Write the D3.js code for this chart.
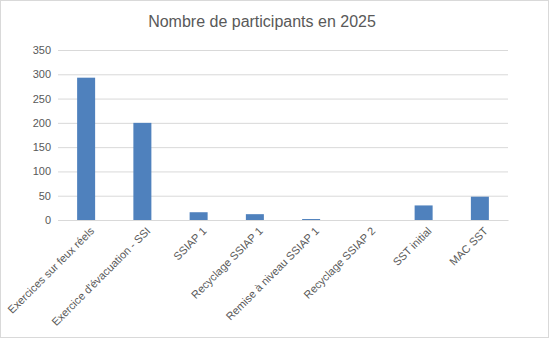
<!DOCTYPE html>
<html>
<head>
<meta charset="utf-8">
<script src="https://cdn.jsdelivr.net/npm/d3@7"></script>
<style>
  body { margin: 0; background: #fff; }
  svg { display: block; font-family: "Liberation Sans", Arial, sans-serif; }
</style>
</head>
<body>
<svg id="chart" width="549" height="338"></svg>
<script>
const categories = ["Exercices sur feux réels", "Exercice d'évacuation - SSI", "SSIAP 1", "Recyclage SSIAP 1",
    "Remise à niveau SSIAP 1", "Recyclage SSIAP 2", "SST initial", "MAC SST"];
const participants = [293, 200, 16, 12, 2, 0, 30, 48];
const yTicks = [0, 50, 100, 150, 200, 250, 300, 350];

const width = 549, height = 338;
const plotLeft = 58, plotRight = 508, plotTop = 50, plotBottom = 220;

const svg = d3.select("#chart");

svg.append("rect")
    .attr("x", 0.5).attr("y", 0.5)
    .attr("width", width - 1).attr("height", height - 1)
    .attr("fill", "#fff").attr("stroke", "#d9d9d9");

svg.append("text")
    .attr("x", 262).attr("y", 27)
    .attr("text-anchor", "middle")
    .attr("font-size", "16px")
    .attr("fill", "#595959")
    .text("Nombre de participants en 2025");

const x = d3.scaleBand()
    .domain(categories)
    .range([plotLeft, plotRight]);

const y = d3.scaleLinear()
    .domain([0, 350])
    .range([plotBottom, plotTop]);

// grid
svg.append("g")
    .attr("class", "grid")
    .attr("transform", `translate(${plotLeft},0)`)
    .call(d3.axisLeft(y).tickValues(yTicks).tickSize(-(plotRight - plotLeft)).tickFormat(""))
    .call(g => g.select(".domain").remove())
    .selectAll("line")
    .attr("stroke", "#d9d9d9");

// y labels
svg.append("g")
    .attr("class", "y-axis")
    .attr("transform", `translate(${plotLeft},0)`)
    .call(d3.axisLeft(y).tickValues(yTicks).tickSize(0).tickPadding(7))
    .call(g => g.select(".domain").remove())
    .selectAll("text")
    .attr("font-family", "Liberation Sans, Arial, sans-serif")
    .attr("font-size", "11px")
    .attr("fill", "#595959");

// bars
const barW = x.bandwidth() * 0.32;
svg.append("g")
    .selectAll("rect")
    .data(participants)
    .join("rect")
    .attr("x", (d, i) => x(categories[i]) + x.bandwidth() / 2 - barW / 2)
    .attr("width", barW)
    .attr("y", d => y(d))
    .attr("height", d => y(0) - y(d))
    .attr("fill", "#4f81bd");

// x axis
svg.append("g")
    .attr("class", "x-axis")
    .attr("transform", `translate(0,${plotBottom})`)
    .call(d3.axisBottom(x).tickSize(0).tickPadding(0))
    .call(g => g.select(".domain").attr("stroke", "#d9d9d9"))
    .selectAll("text")
    .attr("font-family", "Liberation Sans, Arial, sans-serif")
    .attr("font-size", "11px")
    .attr("fill", "#595959")
    .attr("text-anchor", "end")
    .attr("dy", "0.35em")
    .attr("transform", "translate(6,9) rotate(-45)");
</script>
</body>
</html>
